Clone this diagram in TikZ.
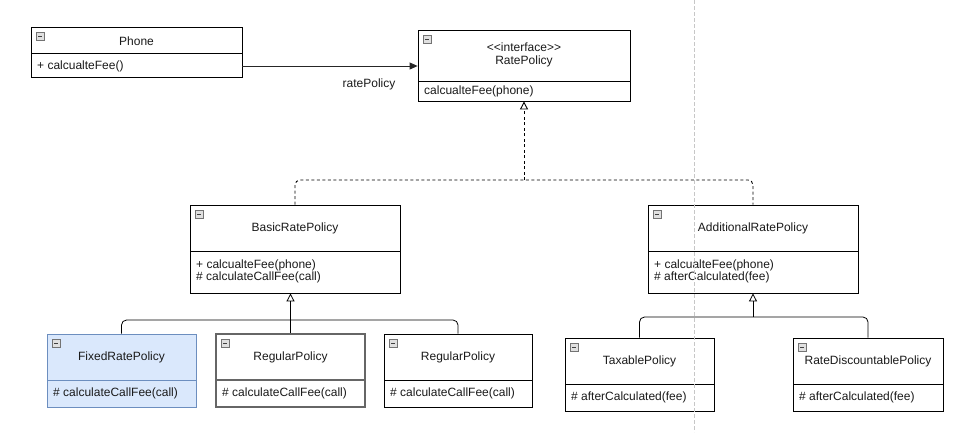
\documentclass[tikz,border=0pt]{standalone}
\usepackage{fontspec}
\setmainfont{Liberation Sans}
\usetikzlibrary{arrows.meta}
\definecolor{fixfill}{HTML}{DAE8FC}
\definecolor{fixdraw}{HTML}{6C8EBF}
\definecolor{txt}{HTML}{1A1A1A}
\tikzset{
  clsbox/.style={draw=black, fill=white, line width=0.8pt, inner sep=0pt},
  lbl/.style={inner sep=0pt, font=\fontsize{12}{14}\selectfont, text=txt},
  mem/.style={lbl, anchor=west, align=left},
  assoc/.style={line width=0.8pt, draw=black!85, -{Triangle[length=8pt,width=7pt]}},
  dashline/.style={line width=0.9pt, dash pattern=on 3pt off 2.5pt},
  realize/.style={dashline, rounded corners=5pt},
  general/.style={line width=0.8pt, rounded corners=5pt},
  opentri/.style={-{Triangle[open,length=8pt,width=8pt]}},
  guide/.style={draw=black!22, line width=0.8pt, dash pattern=on 4pt off 2pt}
}
\newcommand{\clsicon}[2]{%
  \draw[draw=black!55, fill=black!12, line width=0.5pt] ({#1},{#2}) rectangle ({#1+8},{#2+8});
  \draw[black!75, line width=0.9pt] ({#1+2},{#2+4}) -- ({#1+6},{#2+4});
}
\newcommand{\umlcls}[7]{%
  \node[clsbox,#7,minimum width={(#4-#2)*1pt},minimum height={(#5-#3)*1pt}] (#1) at ({(#2+#4)/2},{(#3+#5)/2}) {};
  \draw[clsbox,#7] ({#2},{#6}) -- ({#4},{#6});
  \clsicon{#2+5}{#3+5}
}
\begin{document}
\begin{tikzpicture}[x=1pt,y=-1pt]
\useasboundingbox (0,0) rectangle (961,432);
% classes
\umlcls{phone}{31}{27}{242}{77}{53}{}
\node[lbl] (phoneT) at (136.5,41) {Phone};
\node[mem] (phoneM) at (37,66) {+ calcualteFee()};

\umlcls{rate}{418}{30}{630}{101}{81}{}
\node[lbl] (rateT1) at (524,47) {<\kern0pt<interface>\kern0pt>};
\node[lbl] (rateT2) at (524,61) {RatePolicy};
\node[mem] (rateM) at (424,91) {calcualteFee(phone)};

\umlcls{basic}{190}{205}{400}{293}{251}{}
\node[lbl] (basicT) at (295,228) {BasicRatePolicy};
\node[mem] (basicM) at (196,271.5) {+ calcualteFee(phone)\\[-2pt]\# calculateCallFee(call)};

\umlcls{addl}{648}{205}{858}{293}{251}{}
\node[lbl] (addlT) at (753,228) {AdditionalRatePolicy};
\node[mem] (addlM) at (654,271.5) {+ calcualteFee(phone)\\[-2pt]\# afterCalculated(fee)};

\umlcls{fixed}{47}{334}{196}{407}{380}{draw=fixdraw, fill=fixfill}
\node[lbl] (fixedT) at (121.5,357) {FixedRatePolicy};
\node[mem] (fixedM) at (53,393.5) {\# calculateCallFee(call)};

\umlcls{regA}{216}{334}{365}{407}{380}{draw=black!60, line width=1.5pt}
\node[lbl] (regAT) at (290.5,357) {RegularPolicy};
\node[mem] (regAM) at (222,393.5) {\# calculateCallFee(call)};

\umlcls{regB}{384}{334}{532}{407}{380}{}
\node[lbl] (regBT) at (458,357) {RegularPolicy};
\node[mem] (regBM) at (390,393.5) {\# calculateCallFee(call)};

\umlcls{tax}{565}{338}{714}{411}{384}{}
\node[lbl] (taxT) at (639.5,361) {TaxablePolicy};
\node[mem] (taxM) at (571,397.5) {\# afterCalculated(fee)};

\umlcls{disc}{793}{338}{943}{411}{384}{}
\node[lbl] (discT) at (868,361) {RateDiscountablePolicy};
\node[mem] (discM) at (799,397.5) {\# afterCalculated(fee)};

% association
\coordinate (aS) at ([yshift=-14pt]phone.east);
\draw[assoc] (aS) -- (aS -| rate.west);
\node[lbl] (assocL) at (369,84) {ratePolicy};

% realization
\coordinate (rj) at (524,180);
\draw[realize] (basic.north) -- (basic.north |- rj) -- (addl.north |- rj) -- (addl.north);
\draw[dashline, opentri] (rj) -- (rate.south);

% generalization from BasicRatePolicy
\coordinate (bj) at (290.5,320);
\draw[general] (fixed.north) -- (fixed.north |- bj) -- (regB.north |- bj) -- (regB.north);
\draw[line width=0.8pt, opentri] (regA.north) -- (regA.north |- basic.south);

% generalization from AdditionalRatePolicy
\coordinate (cj) at (753,317);
\draw[general] (tax.north) -- (tax.north |- cj) -- (disc.north |- cj) -- (disc.north);
\draw[line width=0.8pt, opentri] (cj) -- (addl.south);

% guide line
\draw[guide] (694.5,0) -- (694.5,432);
\end{tikzpicture}
\end{document}
